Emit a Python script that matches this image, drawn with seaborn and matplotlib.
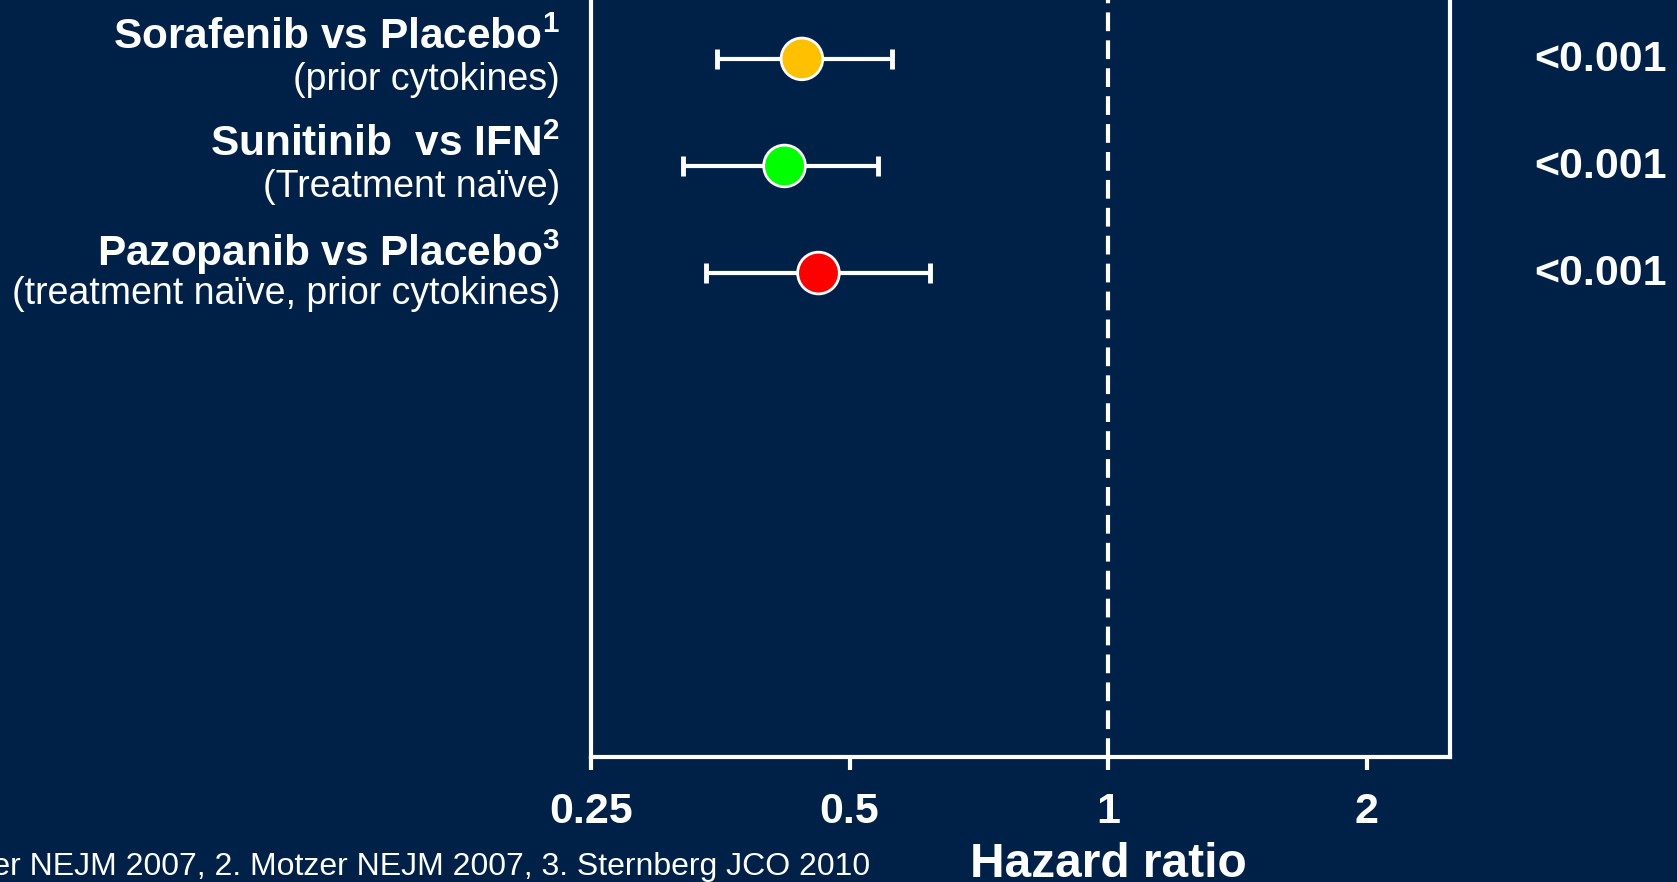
import matplotlib
matplotlib.use("Agg")
import matplotlib.pyplot as plt
import matplotlib.transforms as mtransforms
import seaborn as sns
import pandas as pd

# =========================================================
# DADOS
# =========================================================

trials = ["Sorafenib vs Placebo", "Sunitinib  vs IFN", "Pazopanib vs Placebo"]
refs = ["1", "2", "3"]
subtitles = ["(prior cytokines)", "(Treatment naïve)", "(treatment naïve, prior cytokines)"]
hazard_ratio = [0.44, 0.42, 0.46]
ci_low = [0.35, 0.32, 0.34]
ci_high = [0.56, 0.54, 0.62]
p_values = ["<0.001", "<0.001", "<0.001"]
colors = ["#FFC000", "#00FF00", "#FF0000"]

x_ticks = [0.25, 0.5, 1, 2]
x_tick_labels = ["0.25", "0.5", "1", "2"]
footnote = "1. Escudier NEJM 2007, 2. Motzer NEJM 2007, 3. Sternberg JCO 2010"

BG = "#002147"
FG = "white"

sns.set_style("white")
plt.rcParams["font.family"] = ["Liberation Sans", "DejaVu Sans"]
plt.rcParams.update({
    "figure.facecolor": BG,
    "axes.facecolor": BG,
    "axes.edgecolor": FG,
    "text.color": FG,
    "xtick.color": FG,
    # sobrescritos em mathtext com a mesma fonte
    "mathtext.fontset": "custom",
    "mathtext.rm": "Liberation Sans",
    "mathtext.bf": "Liberation Sans:bold",
})

df = pd.DataFrame({
    "trial": trials,
    "hr": hazard_ratio,
    "low": ci_low,
    "high": ci_high,
    "row": range(len(trials)),
})

fig = plt.figure(figsize=(16.77, 8.82), dpi=100)
ax = fig.add_axes([591 / 1677, 125 / 882, 859 / 1677, 757 / 882])

# linha de referência HR = 1
ax.axvline(1, color=FG, lw=3, linestyle=(0, (4.5, 2.2)), zorder=1)

# intervalos de confiança
ax.errorbar(
    df["hr"], df["row"],
    xerr=[df["hr"] - df["low"], df["high"] - df["hr"]],
    fmt="none", ecolor=FG, elinewidth=3, capsize=7, capthick=3.5, zorder=2,
)

# estimativas pontuais
sns.scatterplot(
    data=df, x="hr", y="row", hue="trial", palette=colors,
    s=900, edgecolor=FG, linewidth=2, legend=False, zorder=3, ax=ax,
)

ax.set_xscale("log", base=2)
ax.set_xlim(0.25, 2.5)
ax.set_ylim(6.52, -0.55)
ax.set_xticks(x_ticks)
ax.set_xticklabels(x_tick_labels, fontsize=31, fontweight="bold")
ax.xaxis.set_minor_locator(plt.NullLocator())
ax.set_yticks([])
ax.set_ylabel("")
ax.tick_params(axis="x", length=9, width=3, pad=16, bottom=True)

for side in ["left", "right", "bottom"]:
    ax.spines[side].set_linewidth(3)
    ax.spines[side].set_color(FG)
ax.spines["top"].set_visible(False)

ax.set_xlabel("Hazard ratio", fontsize=34.5, fontweight="bold", color=FG)
ax.xaxis.set_label_coords(0.602, -0.142)
ax.xaxis.label.set_va("center")

# rótulos das linhas e valores de p
trans = mtransforms.blended_transform_factory(fig.transFigure, ax.transData)
for i, row in df.iterrows():
    label = trials[i] + r"$^{\mathbf{" + refs[i] + "}}$"
    ax.annotate(label, xy=(560 / 1677, row["row"]), xycoords=trans,
                xytext=(0, 15), textcoords="offset points",
                ha="right", va="center", fontsize=30.5, fontweight="bold", color=FG)
    ax.annotate(subtitles[i], xy=(560 / 1677, row["row"]), xycoords=trans,
                xytext=(0, -15), textcoords="offset points",
                ha="right", va="center", fontsize=27, color=FG)
    ax.annotate(p_values[i], xy=(1534 / 1677, row["row"]), xycoords=trans,
                xytext=(0, -1), textcoords="offset points",
                ha="left", va="center", fontsize=31, fontweight="bold", color=FG)

fig.text(870 / 1677, 15 / 882, footnote, ha="right", va="center", fontsize=23, color=FG)

fig.savefig("out.png", dpi=100, facecolor=BG)
